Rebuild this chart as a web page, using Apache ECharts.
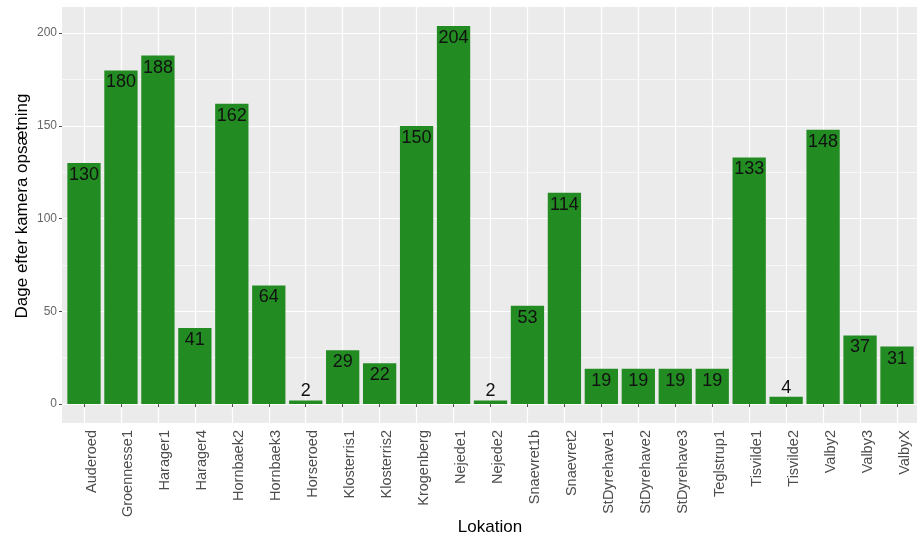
<!DOCTYPE html>
<html>
<head>
<meta charset="utf-8">
<script src="https://cdn.jsdelivr.net/npm/echarts@6/dist/echarts.min.js"></script>
<style>
html,body{margin:0;padding:0;background:#fff;}
#chart{width:917px;height:544px;}
</style>
</head>
<body>
<div id="chart"></div>
<script>
const categories = ["Auderoed","Groennesse1","Harager1","Harager4","Hornbaek2","Hornbaek3","Horseroed","Klosterris1","Klosterris2","Krogenberg","Nejede1","Nejede2","Snaevret1b","Snaevret2","StDyrehave1","StDyrehave2","StDyrehave3","Teglstrup1","Tisvilde1","Tisvilde2","Valby2","Valby3","ValbyX"];
const values = [130,180,188,41,162,64,2,29,22,150,204,2,53,114,19,19,19,19,133,4,148,37,31];
const yTicks = [0,50,100,150,200];
const yTitle = "Dage efter kamera opsætning";
const xTitle = "Lokation";

const FONT = '"Liberation Sans", Arial, sans-serif';
const yMin = -10.2, yMax = 214.2;

const chart = echarts.init(document.getElementById('chart'), null, {renderer:'canvas'});

const barData = values.map(v => ({
  value: v,
  label: v < 10
    ? {position:'top', distance:0}
    : {position:'insideTop', distance:3}
}));

chart.setOption({
  animation:false,
  backgroundColor:'#ffffff',
  textStyle:{fontFamily:FONT},
  graphic:[
    {type:'rect', z:-1, shape:{x:62,y:7,width:857,height:416}, style:{fill:'#ebebeb'}},
    {type:'text', z:100, x:22, y:206, rotation:Math.PI/2,
     style:{text:yTitle, fontSize:17, fontFamily:FONT, fill:'#000', align:'center', verticalAlign:'middle'}},
    {type:'text', z:100, x:490, y:527,
     style:{text:xTitle, fontSize:17, fontFamily:FONT, fill:'#000', align:'center', verticalAlign:'middle'}}
  ],
  grid:[
    {left:62, top:33, width:857, height:371, containLabel:false},
    {left:84, top:7, width:813, height:416, containLabel:false}
  ],
  xAxis:[
    {gridIndex:0, type:'value', min:0, max:1, show:false},
    {gridIndex:1, type:'category', data:categories, boundaryGap:false,
     axisLine:{show:false},
     axisTick:{show:true, length:3, inside:false, lineStyle:{color:'#4d4d4d', width:1}},
     splitLine:{show:true, lineStyle:{color:'#ffffff', width:1.2}},
     axisLabel:{rotate:90, interval:0, margin:7, fontSize:14.5, color:'#4d4d4d', fontFamily:FONT, verticalAlign:'top'}
    }
  ],
  yAxis:[
    {gridIndex:0, type:'value', min:0, max:200, interval:50,
     axisLine:{show:false},
     axisTick:{show:true, length:3, lineStyle:{color:'#4d4d4d', width:1}},
     axisLabel:{margin:5, fontSize:12, color:'#666', fontFamily:FONT,
       customValues: yTicks},
     splitLine:{show:true, lineStyle:{color:'#ffffff', width:1.2}},
     minorTick:{show:false, splitNumber:2},
     minorSplitLine:{show:true, lineStyle:{color:'#ffffff', width:0.6}}
    },
    {gridIndex:1, type:'value', min:yMin, max:yMax, show:false, splitLine:{show:false}}
  ],
  series:[{
    type:'bar',
    xAxisIndex:1, yAxisIndex:1,
    data:barData,
    barWidth:33.3,
    itemStyle:{color:'#228B22'},
    label:{show:true, color:'#111', fontSize:18, fontFamily:FONT},
    z:2
  }]
});
</script>
</body>
</html>
